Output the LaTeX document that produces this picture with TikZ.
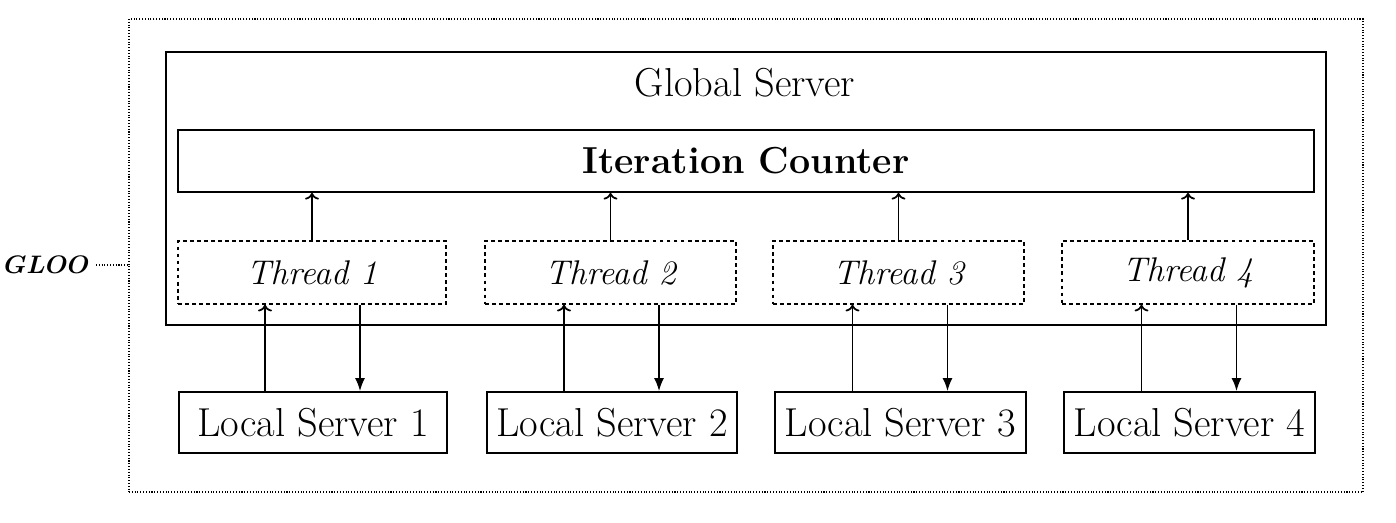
\documentclass[tikz,border=0pt]{standalone}
\usepackage{bm}
\usepackage{tikz}
\usetikzlibrary{arrows.meta}

\begin{document}
\begin{tikzpicture}[
  box/.style={draw, line width=1pt, minimum height=1.22cm, font=\fontsize{23}{27}\selectfont},
  threadbox/.style={draw, line width=0.9pt, dash pattern=on 2.2pt off 1.8pt, minimum height=1.26cm, font=\fontsize{19.5}{23}\selectfont\itshape},
  upline/.style={->, line width=1pt},
  downline/.style={-{Latex[length=2.6mm, width=2mm]}, line width=1pt}]
\useasboundingbox (0,0) rectangle (27.92,10.44);

% outer GLOO group and global server
\node (outer) [draw, line width=0.6pt, densely dotted, minimum width=24.68cm, minimum height=9.46cm] at (14.92,5.33) {};
\node (global) [draw, line width=1pt, minimum width=23.2cm, minimum height=5.46cm] at (14.92,6.67) {};
\node (globallabel) [font=\fontsize{23}{27}\selectfont] at (14.9,8.78) {Global Server};
\node (counter) [box, minimum width=22.72cm, minimum height=1.24cm, font=\fontsize{21.4}{25}\selectfont] at (14.92,7.22) {\textbf{Iteration Counter}};

\node (gloo) [font=\Large] at (0.94,5.14) {$\bm{GLOO}$};
\draw[line width=0.6pt, densely dotted] (gloo.east) -- (gloo.east -| outer.west);

% threads
\node (t1) [threadbox, minimum width=5.36cm] at (6.24,4.99) {Thread 1};
\node (t2) [threadbox, minimum width=5.02cm] at (12.21,4.99) {Thread 2};
\node (t3) [threadbox, minimum width=5.02cm] at (17.97,4.99) {Thread 3};
\node (t4) [threadbox, minimum width=5.04cm] at (23.76,4.99) {Thread 4};

% local servers
\node (ls1) [box, minimum width=5.36cm] at (6.26,1.99) {Local Server 1};
\node (ls2) [box, minimum width=5.0cm] at (12.24,1.99) {Local Server 2};
\node (ls3) [box, minimum width=5.02cm] at (18.01,1.99) {Local Server 3};
\node (ls4) [box, minimum width=5.02cm] at (23.79,1.99) {Local Server 4};

% threads to counter
\draw[upline] (t1.north) -- (t1.north |- counter.south);
\draw[upline] (t2.north) -- (t2.north |- counter.south);
\draw[upline] (t3.north) -- (t3.north |- counter.south);
\draw[upline] (t4.north) -- (t4.north |- counter.south);

% local servers <-> threads
\draw[upline] ([xshift=-0.96cm]ls1.north) -- ([xshift=-0.96cm]ls1.north |- t1.south);
\draw[downline] ([xshift=0.94cm]ls1.north |- t1.south) -- ([xshift=0.94cm]ls1.north);
\draw[upline] ([xshift=-0.96cm]ls2.north) -- ([xshift=-0.96cm]ls2.north |- t2.south);
\draw[downline] ([xshift=0.94cm]ls2.north |- t2.south) -- ([xshift=0.94cm]ls2.north);
\draw[upline] ([xshift=-0.96cm]ls3.north) -- ([xshift=-0.96cm]ls3.north |- t3.south);
\draw[downline] ([xshift=0.94cm]ls3.north |- t3.south) -- ([xshift=0.94cm]ls3.north);
\draw[upline] ([xshift=-0.96cm]ls4.north) -- ([xshift=-0.96cm]ls4.north |- t4.south);
\draw[downline] ([xshift=0.94cm]ls4.north |- t4.south) -- ([xshift=0.94cm]ls4.north);
\end{tikzpicture}
\end{document}
